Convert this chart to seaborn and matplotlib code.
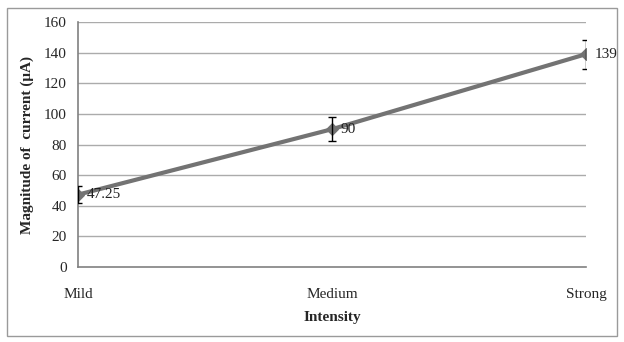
import matplotlib
matplotlib.use("Agg")
import matplotlib.pyplot as plt
import seaborn as sns
import pandas as pd
from matplotlib.patches import Rectangle

categories = ["Mild", "Medium", "Strong"]
values = [47.25, 90, 139]
errors = [5.5, 8, 9.5]
labels = ["47.25", "90", "139"]

sns.set_style("white")
plt.rcParams['font.family'] = ['Liberation Serif', 'DejaVu Serif']

df = pd.DataFrame({"Intensity": categories, "Current": values})

fig = plt.figure(figsize=(6.24, 3.42), dpi=100)
ax = fig.add_axes([78/624, 1-267/342, (586-78)/624, (267-22)/342])

for y in range(20, 161, 20):
    ax.axhline(y, color="#ababab", lw=1.0, zorder=0)

sns.lineplot(data=df, x="Intensity", y="Current", ax=ax, color="#737373",
             lw=3, marker="D", markersize=6, markeredgecolor="#737373", sort=False, zorder=3)
xs = list(range(len(categories)))
ax.errorbar(xs, values, yerr=errors, fmt="none", ecolor="black", elinewidth=1,
            capsize=3, capthick=1, zorder=4)
for x, v, t in zip(xs, values, labels):
    ax.text(x + 0.035, v, t, va="center", ha="left", fontsize=11, color="#222222", zorder=5)

ax.set_xlim(0, 2)
ax.set_ylim(0, 160)
ax.set_yticks(range(0, 161, 20))
ax.set_xticks(xs)
ax.set_xticklabels(categories)
ax.tick_params(axis="y", length=4, color="#808080", labelsize=11, pad=4)
ax.tick_params(axis="x", length=4, color="#808080", labelsize=11, pad=11)
for s in ["top", "right"]:
    ax.spines[s].set_visible(False)
for s in ["left", "bottom"]:
    ax.spines[s].set_color("#808080")
    ax.spines[s].set_linewidth(1.2)
ax.set_xlabel("Intensity", fontsize=11, fontweight="bold", labelpad=7)
ax.set_ylabel("Magnitude of  current (μA)", fontsize=11, fontweight="bold", labelpad=7)

fig.patches.append(Rectangle((7/624, 6/342), 610/624, 328/342, transform=fig.transFigure,
                             fill=False, edgecolor="#9a9a9a", lw=1))

fig.savefig("out.png", dpi=100)
